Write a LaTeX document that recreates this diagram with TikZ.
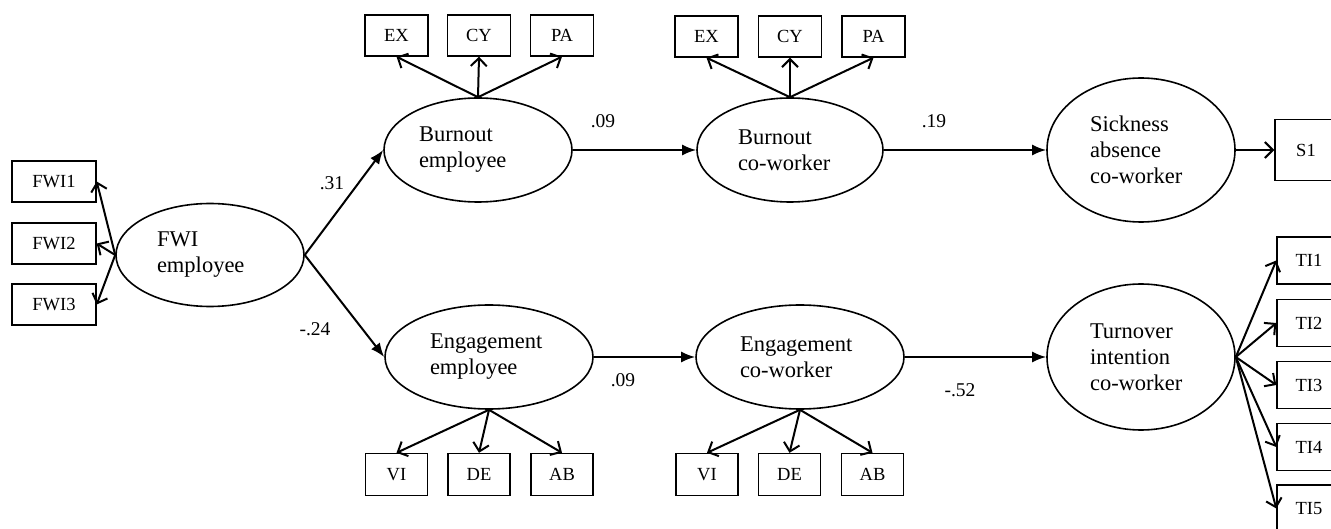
\documentclass[tikz,border=0pt]{standalone}
\usepackage{fontspec}
\setmainfont{Liberation Serif}
\usetikzlibrary{arrows.meta,shapes.geometric}
\begin{document}
\begin{tikzpicture}[x=1pt,y=-1pt,
  lat/.style={draw, ellipse, line width=1.6pt, inner sep=0pt, align=left, font=\fontsize{22.5}{26}\selectfont},
  ind/.style={draw, rectangle, line width=1.4pt, inner sep=0pt, font=\fontsize{18.5}{21}\selectfont},
  strpath/.style={line width=2pt, -{Latex[length=14pt,width=11pt]}},
  loadarr/.style={line width=2pt, -{Straight Barb[length=8pt,width=16pt,line width=2pt]}},
  coef/.style={inner sep=0pt, font=\fontsize{19.5}{22}\selectfont}]
\useasboundingbox (0,0) rectangle (1331,529);
\clip (0,0) rectangle (1331,529);
% latent variables
\node[lat, text width=106pt, minimum width=188pt, minimum height=103pt] (fwi) at (210,255) {FWI\\employee};
\node[lat, text width=118pt, minimum width=188pt, minimum height=104pt] (be) at (478,150) {Burnout\\employee};
\node[lat, text width=104pt, minimum width=186pt, minimum height=104pt] (bc) at (790,150) {Burnout\\co-worker};
\node[lat, text width=102pt, minimum width=188pt, minimum height=144pt] (sa) at (1141,150) {Sickness\\absence\\co-worker};
\node[lat, text width=118pt, minimum width=208pt, minimum height=104pt] (ee) at (489,357) {Engagement\\employee};
\node[lat, text width=120pt, minimum width=208pt, minimum height=104pt] (ec) at (800,357) {Engagement\\co-worker};
\node[lat, text width=102pt, minimum width=188pt, minimum height=146pt] (ti) at (1141,357) {Turnover\\intention\\co-worker};
% indicators
\node[ind, minimum width=84pt, minimum height=41pt] (f1) at (54,181.5) {FWI1};
\node[ind, minimum width=84pt, minimum height=41pt] (f2) at (54,243.5) {FWI2};
\node[ind, minimum width=84pt, minimum height=41pt] (f3) at (54,304.5) {FWI3};
\node[ind, minimum width=63pt, minimum height=41pt] (ex1) at (396.5,35.5) {EX};
\node[ind, minimum width=63pt, minimum height=41pt] (cy1) at (479,35.5) {CY};
\node[ind, minimum width=63pt, minimum height=41pt] (pa1) at (562,35.5) {PA};
\node[ind, minimum width=63pt, minimum height=41pt] (ex2) at (706.5,36.5) {EX};
\node[ind, minimum width=63pt, minimum height=41pt] (cy2) at (790,36.5) {CY};
\node[ind, minimum width=63pt, minimum height=41pt] (pa2) at (873.5,36.5) {PA};
\node[ind, minimum width=62pt, minimum height=42pt] (vi1) at (396.5,474.5) {VI};
\node[ind, minimum width=62pt, minimum height=42pt] (de1) at (479,474.5) {DE};
\node[ind, minimum width=62pt, minimum height=42pt] (ab1) at (562,474.5) {AB};
\node[ind, minimum width=62pt, minimum height=42pt] (vi2) at (707,474.5) {VI};
\node[ind, minimum width=62pt, minimum height=42pt] (de2) at (789.5,474.5) {DE};
\node[ind, minimum width=62pt, minimum height=42pt] (ab2) at (872.5,474.5) {AB};
\node[ind, minimum width=62pt, minimum height=61pt] (s1) at (1306,150) {S1};
\node[ind, minimum width=64pt, minimum height=47pt] (t1) at (1309,260.5) {TI1};
\node[ind, minimum width=64pt, minimum height=47pt] (t2) at (1309,323) {TI2};
\node[ind, minimum width=64pt, minimum height=47pt] (t3) at (1309,385) {TI3};
\node[ind, minimum width=64pt, minimum height=47pt] (t4) at (1309,447) {TI4};
\node[ind, minimum width=64pt, minimum height=47pt] (t5) at (1309,508.5) {TI5};
% structural paths
\draw[strpath] (fwi.east) -- (be.west);
\draw[strpath] (fwi.east) -- (ee.west);
\draw[strpath] (be.east) -- (bc.west);
\draw[strpath] (bc.east) -- (sa.west);
\draw[strpath] (ee.east) -- (ec.west);
\draw[strpath] (ec.east) -- (ti.west);
% loadings
\draw[loadarr] (fwi.west) -- (f1.east);
\draw[loadarr] (fwi.west) -- (f2.east);
\draw[loadarr] (fwi.west) -- (f3.east);
\draw[loadarr] (be.north) -- (ex1.south);
\draw[loadarr] (be.north) -- (cy1.south);
\draw[loadarr] (be.north) -- (pa1.south);
\draw[loadarr] (bc.north) -- (ex2.south);
\draw[loadarr] (bc.north) -- (cy2.south);
\draw[loadarr] (bc.north) -- (pa2.south);
\draw[loadarr] (ee.south) -- (vi1.north);
\draw[loadarr] (ee.south) -- (de1.north);
\draw[loadarr] (ee.south) -- (ab1.north);
\draw[loadarr] (ec.south) -- (vi2.north);
\draw[loadarr] (ec.south) -- (de2.north);
\draw[loadarr] (ec.south) -- (ab2.north);
\draw[loadarr] (sa.east) -- (s1.west);
\draw[loadarr] (ti.east) -- (t1.west);
\draw[loadarr] (ti.east) -- (t2.west);
\draw[loadarr] (ti.east) -- (t3.west);
\draw[loadarr] (ti.east) -- (t4.west);
\draw[loadarr] (ti.east) -- (t5.west);
% coefficients
\node[coef] (c1) at (332,183) {.31};
\node[coef] (c2) at (315,329) {-.24};
\node[coef] (c3) at (603,121) {.09};
\node[coef] (c4) at (934,121) {.19};
\node[coef] (c5) at (623,380) {.09};
\node[coef] (c6) at (960,390) {-.52};
\end{tikzpicture}
\end{document}
